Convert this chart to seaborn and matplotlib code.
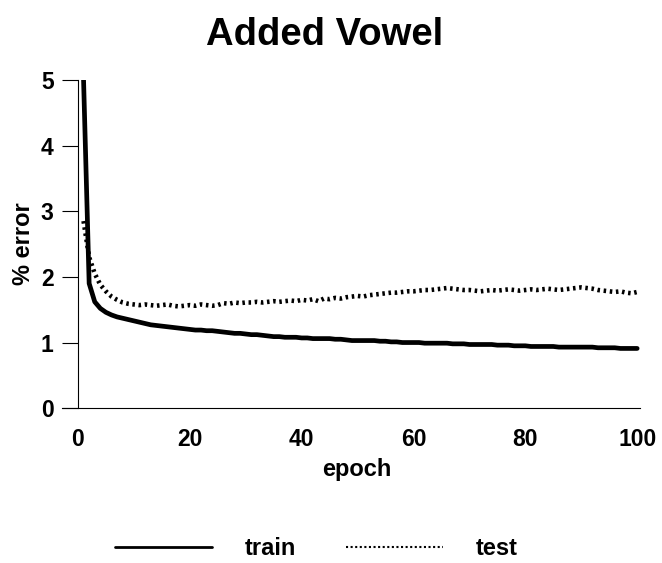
import seaborn as sns
import matplotlib.pyplot as plt
import pandas as pd
from matplotlib.lines import Line2D

# 数据：每个 epoch 的误差 (%)
epochs = list(range(1, 101))
train_err = [
    5.00, 1.90, 1.62, 1.52, 1.46, 1.42, 1.39, 1.37, 1.35, 1.33,
    1.31, 1.29, 1.27, 1.26, 1.25, 1.24, 1.23, 1.22, 1.21, 1.20,
    1.19, 1.19, 1.18, 1.18, 1.17, 1.16, 1.15, 1.14, 1.14, 1.13,
    1.12, 1.12, 1.11, 1.10, 1.09, 1.09, 1.08, 1.08, 1.08, 1.07,
    1.07, 1.06, 1.06, 1.06, 1.06, 1.05, 1.05, 1.04, 1.03, 1.03,
    1.03, 1.03, 1.03, 1.02, 1.02, 1.01, 1.01, 1.00, 1.00, 1.00,
    1.00, 0.99, 0.99, 0.99, 0.99, 0.99, 0.98, 0.98, 0.98, 0.97,
    0.97, 0.97, 0.97, 0.97, 0.96, 0.96, 0.96, 0.95, 0.95, 0.95,
    0.94, 0.94, 0.94, 0.94, 0.94, 0.93, 0.93, 0.93, 0.93, 0.93,
    0.93, 0.93, 0.92, 0.92, 0.92, 0.92, 0.91, 0.91, 0.91, 0.91,
]
test_err = [
    2.85, 2.30, 2.05, 1.88, 1.78, 1.70, 1.65, 1.61, 1.59, 1.58,
    1.57, 1.58, 1.57, 1.56, 1.57, 1.58, 1.56, 1.55, 1.56, 1.57,
    1.56, 1.58, 1.57, 1.56, 1.57, 1.60, 1.59, 1.61, 1.60, 1.61,
    1.61, 1.62, 1.61, 1.62, 1.63, 1.62, 1.63, 1.64, 1.63, 1.65,
    1.64, 1.66, 1.63, 1.67, 1.66, 1.68, 1.67, 1.69, 1.70, 1.71,
    1.70, 1.72, 1.73, 1.74, 1.75, 1.76, 1.76, 1.77, 1.78, 1.78,
    1.79, 1.80, 1.80, 1.81, 1.82, 1.83, 1.82, 1.81, 1.80, 1.80,
    1.79, 1.78, 1.79, 1.80, 1.79, 1.80, 1.81, 1.80, 1.79, 1.80,
    1.81, 1.80, 1.81, 1.82, 1.81, 1.80, 1.81, 1.82, 1.83, 1.84,
    1.83, 1.82, 1.80, 1.79, 1.78, 1.77, 1.78, 1.76, 1.75, 1.77,
]
x_ticks = [0, 20, 40, 60, 80, 100]
y_ticks = [0, 1, 2, 3, 4, 5]

df = pd.DataFrame({'epoch': epochs, 'train': train_err, 'test': test_err})

sns.set_style("white", {'ytick.left': True, 'text.color': 'black',
                        'xtick.color': 'black', 'ytick.color': 'black',
                        'axes.labelcolor': 'black', 'axes.edgecolor': 'black'})
plt.rcParams['font.family'] = ['Liberation Sans', 'DejaVu Sans']
plt.rcParams['font.weight'] = 'bold'

fig = plt.figure(figsize=(6.62, 5.63), dpi=100)
ax = fig.add_axes([0.0937, 0.275, 0.873, 0.583])

sns.lineplot(data=df, x='epoch', y='test', ax=ax, color='black', lw=3.3,
             linestyle=(0, (0.55, 0.8)))
sns.lineplot(data=df, x='epoch', y='train', ax=ax, color='black', lw=3.4)

ax.set_xlim(-2.85, 100.5)
ax.set_ylim(0, 5)
ax.set_xticks(x_ticks)
ax.set_yticks(y_ticks)
ax.tick_params(axis='y', length=11.5, width=0.8, pad=6, labelsize=16.5, left=True, color='black')
ax.tick_params(axis='x', length=0, pad=14, labelsize=16.5)
for lab in ax.get_xticklabels() + ax.get_yticklabels():
    lab.set_fontweight('bold')

for s in ['top', 'right']:
    ax.spines[s].set_visible(False)
ax.spines['left'].set_position(('data', 0))
ax.spines['left'].set_linewidth(0.8)
ax.spines['bottom'].set_linewidth(0.8)

ax.set_xlabel('epoch', fontsize=17, fontweight='bold', labelpad=7)
ax.xaxis.set_label_coords(0.51, -0.152)
ax.set_ylabel('% error', fontsize=17, fontweight='bold', labelpad=4)
fig.text(0.491, 0.937, 'Added Vowel', ha='center', va='center', fontsize=27.5, fontweight='bold')

handles = [Line2D([], [], color='black', lw=2),
           Line2D([], [], color='black', lw=1.5, linestyle=(0, (1, 1.2)))]
fig.legend(handles, ['train', 'test'], loc='center', bbox_to_anchor=(0.478, 0.026), ncol=2,
           frameon=False, handlelength=4.1, handletextpad=1.4, columnspacing=2.1,
           prop={'size': 17, 'weight': 'bold'})

fig.savefig('out.png', dpi=100)
